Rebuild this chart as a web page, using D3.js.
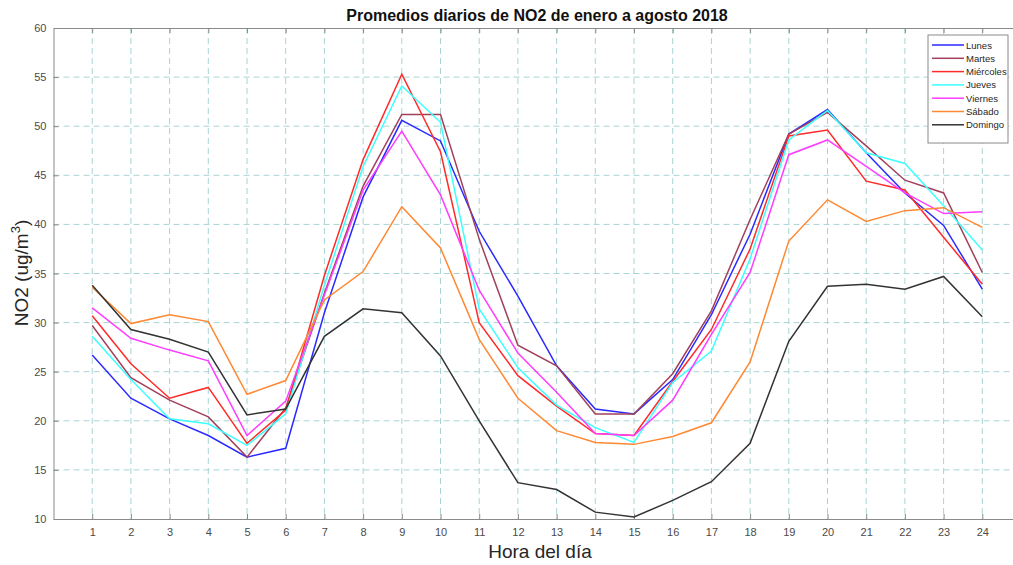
<!DOCTYPE html>
<html>
<head>
<meta charset="utf-8">
<script src="https://cdn.jsdelivr.net/npm/d3@7"></script>
<style>
  body { margin: 0; background: #fff; }
  svg { display: block; font-family: "Liberation Sans", Arial, sans-serif; }
</style>
</head>
<body>
<svg id="chart" width="1013" height="565"></svg>
<script>
// hours of the day
const horas = d3.range(1, 25);

const lunes     = [26.7, 22.3, 20.2, 18.5, 16.3, 17.2, 31.0, 42.8, 50.6, 48.5, 39.3, 32.7, 25.6, 21.2, 20.7, 24.2, 30.8, 39.0, 49.2, 51.7, 47.3, 43.2, 39.9, 33.4];
const martes    = [29.7, 24.4, 22.1, 20.4, 16.3, 21.3, 33.0, 43.9, 51.2, 51.2, 38.5, 27.7, 25.6, 20.7, 20.7, 24.8, 31.2, 40.5, 49.2, 51.4, 48.0, 44.5, 43.2, 35.1];
const miercoles = [30.7, 25.8, 22.3, 23.4, 17.7, 21.1, 34.8, 46.6, 55.3, 47.4, 30.0, 24.6, 21.5, 18.7, 18.5, 24.0, 29.3, 37.5, 49.0, 49.6, 44.4, 43.5, 38.7, 33.9];
const jueves    = [28.6, 24.2, 20.2, 19.7, 17.5, 20.7, 33.8, 45.9, 54.1, 50.4, 31.4, 25.4, 21.6, 19.3, 17.8, 23.9, 27.1, 36.5, 48.6, 51.6, 47.3, 46.2, 41.9, 37.4];
const viernes   = [31.5, 28.4, 27.2, 26.1, 18.5, 22.0, 32.8, 43.5, 49.5, 43.0, 33.3, 26.9, 22.9, 18.7, 18.5, 22.1, 28.8, 35.1, 47.1, 48.6, 45.9, 43.2, 41.1, 41.3];
const sabado    = [33.6, 29.9, 30.8, 30.1, 22.7, 24.1, 32.3, 35.2, 41.8, 37.6, 28.3, 22.3, 19.0, 17.8, 17.6, 18.4, 19.8, 26.0, 38.3, 42.5, 40.3, 41.4, 41.7, 39.7];
const domingo   = [33.8, 29.3, 28.3, 27.0, 20.6, 21.2, 28.6, 31.4, 31.0, 26.6, 20.0, 13.7, 13.0, 10.7, 10.2, 11.9, 13.8, 17.7, 28.1, 33.7, 33.9, 33.4, 34.7, 30.6];

const dias = ["Lunes", "Martes", "Miércoles", "Jueves", "Viernes", "Sábado", "Domingo"];
const colores = ["#2a2aff", "#a0405a", "#ff2a2a", "#3cffff", "#ff3cff", "#ff8833", "#333333"];
const series = [lunes, martes, miercoles, jueves, viernes, sabado, domingo];

const yTicks = d3.range(10, 61, 5);

const svg = d3.select("#chart");
const margin = { left: 53.5, top: 28, right: 1021, bottom: 519 };

const x = d3.scaleLinear().domain([0, 25]).range([margin.left, margin.right]);
const y = d3.scaleLinear().domain([10, 60]).range([margin.bottom, margin.top]);

const gridColor = "#a8d4d4";
const axisColor = "#8a8a8a";

// grid
svg.append("g").selectAll("line").data(horas).enter().append("line")
  .attr("x1", d => x(d)).attr("x2", d => x(d))
  .attr("y1", margin.top).attr("y2", margin.bottom)
  .attr("stroke", gridColor).attr("stroke-dasharray", "6,4");
svg.append("g").selectAll("line").data(yTicks.slice(1, -1)).enter().append("line")
  .attr("x1", margin.left).attr("x2", margin.right)
  .attr("y1", d => y(d)).attr("y2", d => y(d))
  .attr("stroke", gridColor).attr("stroke-dasharray", "6,4");

// axes
const xAxis = d3.axisBottom(x).tickValues(horas).tickSizeInner(-5).tickSizeOuter(0).tickPadding(9);
const yAxis = d3.axisLeft(y).tickValues(yTicks).tickSizeInner(-5).tickSizeOuter(0).tickPadding(7);
const xTop = d3.axisTop(x).tickValues(horas).tickSizeInner(-5).tickSizeOuter(0).tickFormat("");

const gx = svg.append("g").attr("transform", `translate(0,${margin.bottom})`).call(xAxis);
const gy = svg.append("g").attr("transform", `translate(${margin.left},0)`).call(yAxis);
const gt = svg.append("g").attr("transform", `translate(0,${margin.top})`).call(xTop);
[gx, gy, gt].forEach(g => {
  g.selectAll("path, line").attr("stroke", axisColor);
  g.selectAll("text").attr("fill", "#4a4a4a").style("font-size", "11px")
    .style("font-family", "'Liberation Sans', Arial, sans-serif");
});

// lines
const line = d3.line().x((d, i) => x(horas[i])).y(d => y(d));
svg.append("g").selectAll("path").data(series).enter().append("path")
  .attr("d", line)
  .attr("fill", "none")
  .attr("stroke", (d, i) => colores[i])
  .attr("stroke-width", 1.5);

// title and labels
svg.append("text").attr("x", 537).attr("y", 21).attr("text-anchor", "middle")
  .style("font-size", "16px").style("font-weight", "bold").attr("fill", "#111")
  .text("Promedios diarios de NO2 de enero a agosto 2018");

svg.append("text").attr("x", 540).attr("y", 558).attr("text-anchor", "middle")
  .style("font-size", "19px").attr("fill", "#262626")
  .text("Hora del día");

const yl = svg.append("text")
  .attr("transform", "translate(28,273) rotate(-90)")
  .attr("text-anchor", "middle")
  .style("font-size", "19px").attr("fill", "#262626");
yl.append("tspan").text("NO2 (ug/m");
yl.append("tspan").attr("dy", -8).style("font-size", "13px").text("3");
yl.append("tspan").attr("dy", 8).text(")");

// legend
const lg = svg.append("g").attr("transform", "translate(928,35)");
lg.append("rect").attr("width", 80).attr("height", 108)
  .attr("fill", "#fff").attr("stroke", "#8a8a8a");
const items = lg.selectAll("g.item").data(dias).enter().append("g")
  .attr("transform", (d, i) => `translate(0,${10 + i * 13.3})`);
items.append("line").attr("x1", 4).attr("x2", 36).attr("y1", 0).attr("y2", 0)
  .attr("stroke", (d, i) => colores[i]).attr("stroke-width", 1.5);
items.append("text").attr("x", 38).attr("y", 3.5)
  .style("font-size", "9.5px").attr("fill", "#262626").text(d => d);
</script>
</body>
</html>
